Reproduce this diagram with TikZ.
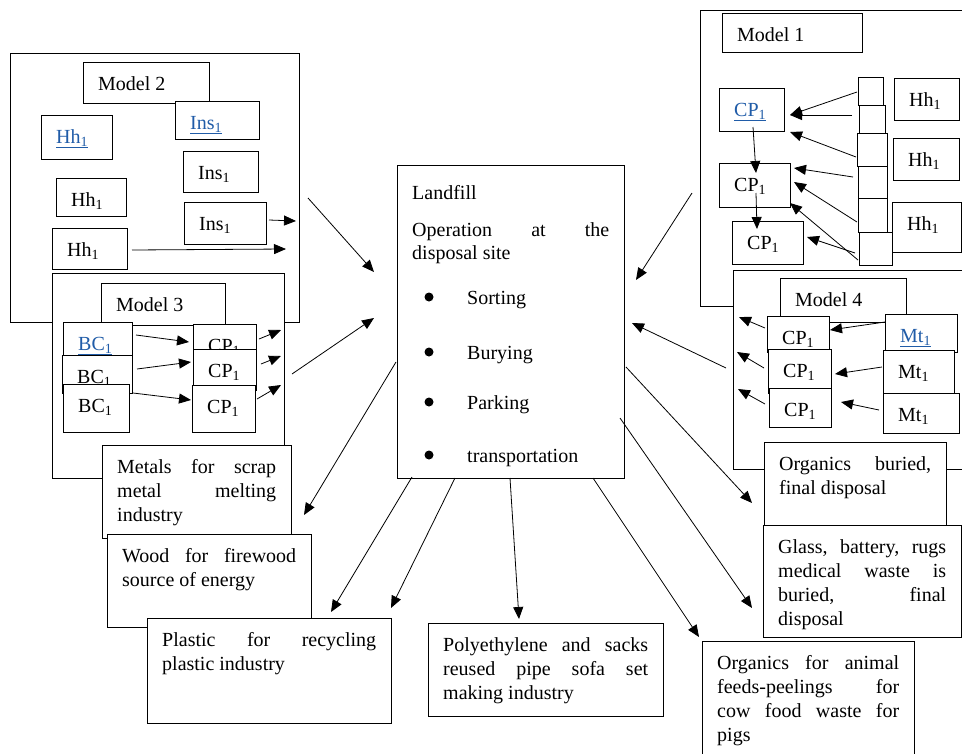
\documentclass[tikz,border=0pt]{standalone}
\usepackage{fontspec}
\setmainfont{Liberation Serif}
\usetikzlibrary{arrows.meta,fit}
\definecolor{linkblue}{RGB}{32,92,168}
\hyphenpenalty=10000
\exhyphenpenalty=10000

\tikzset{
  box/.style={draw, fill=white, line width=0.8pt, inner sep=0pt},
  txt/.style={inner sep=0pt, anchor=north west, font=\fontsize{20}{24}\selectfont},
  arr/.style={line width=0.8pt, -{Triangle[length=12pt,width=10pt]}},
}
% blue underlined index label
\newcommand{\blu}[1]{\textcolor{linkblue}{\underline{#1\textsubscript{1}}}}
\newcommand{\one}[1]{#1\textsubscript{1}}
% box from (x1,y1) to (x2,y2) with one text line
\newcommand{\wbox}[6]{%
  \node[box, fit={(#2,#3) (#4,#5)}] (#1) {};
  \node[txt] (#1t) at ({#2+15},{#3+11}) {\strut #6};}
% box with justified text
\newcommand{\wpar}[6]{%
  \node[box, fit={(#2,#3) (#4,#5)}] (#1) {};
  \pgfmathsetmacro\tw{#4-#2-30}
  \node[txt, text width=\tw pt, align=justify] (#1t) at ({#2+15},{#3+11}) {\strut #6};}

\begin{document}
\begin{tikzpicture}[x=1pt,y=-1pt]
\useasboundingbox (0,0) rectangle (962,753);

% model 2
\node[box, fit={(10,53) (299,322)}] (mtwo) {};
\wbox{mtwol}{83}{62}{209}{103}{Model 2}
\wbox{hha}{41}{115}{112}{159}{\blu{Hh}}
\wbox{insa}{175}{101}{259}{139}{\blu{Ins}}
\wbox{insb}{183}{151}{258}{192}{\one{Ins}}
\wbox{hhb}{56}{178}{126}{216}{\one{Hh}}
\wbox{insc}{184}{202}{266}{244}{\one{Ins}}
\wbox{hhc}{52}{228}{127}{269}{\one{Hh}}

% model 3
\node[box, fit={(52,273) (284,478)}] (mthree) {};
\wbox{mthreel}{101}{283}{225}{325}{Model 3}
\wbox{bca}{63}{322}{132}{365}{\blu{BC}}
\wbox{bcb}{62}{355}{132}{393}{\one{BC}}
\wbox{bcc}{63}{384}{129}{432}{\one{BC}}
\wbox{cpa}{193}{324}{256}{365}{\one{CP}}
\wbox{cpb}{193}{349}{256}{390}{\one{CP}}
\wbox{cpc}{192}{385}{255}{432}{\one{CP}}

% left outputs
\wpar{metal}{102}{445}{291}{538}{Metals for scrap\linebreak metal melting\linebreak industry}
\wpar{wood}{107}{534}{311}{627}{Wood for firewood\linebreak source of energy}
\wpar{plast}{147}{618}{391}{723}{Plastic for recycling\linebreak plastic industry}

% landfill
\node[box, fit={(397,165) (624,478)}] (lf) {};
\node[txt] (lfa) at (412,182) {\strut Landfill};
\node[txt] (lfb) at (412,219) {\strut\makebox[197pt][s]{Operation at the}};
\node[txt] (lfc) at (412,242) {\strut disposal site};
\foreach \t/\y [count=\i] in {Sorting/304,Burying/359,Parking/409,transportation/462}{
  \fill (429,\y-7) circle (4.5pt);
  \node[txt, anchor=base west] (op\i) at (467,\y) {\t};
}

\wpar{poly}{428}{623}{663}{716}{Polyethylene and sacks\linebreak reused pipe sofa set\linebreak making industry}

% model 1
\node[box, fit={(700,10) (975,306)}] (mone) {};
\wbox{monel}{722}{13}{862}{52}{Model 1}
\wbox{cpd}{719}{88}{784}{131}{\blu{CP}}
\wbox{cpe}{719}{163}{790}{207}{\one{CP}}
\wbox{cpf}{732}{221}{803}{264}{\one{CP}}
\foreach \a/\b/\c/\d [count=\i] in {858/77/883/105, 859/105/885/133, 857/133/887/166,
    858/166/887/198, 858/198/887/232, 859/232/892/265}{
  \node[box, fit={(\a,\b) (\c,\d)}] (sq\i) {};
}
\wbox{hhd}{894}{78}{959}{120}{\one{Hh}}
\wbox{hhe}{893}{138}{959}{180}{\one{Hh}}
\wbox{hhf}{892}{202}{961}{252}{\one{Hh}}

% model 4
\node[box, fit={(733,270) (975,469)}] (mfour) {};
\wbox{mfourl}{780}{278}{906}{322}{Model 4}
\wbox{cpg}{767}{316}{829}{352}{\one{CP}}
\wbox{cph}{768}{349}{831}{393}{\one{CP}}
\wbox{cpi}{769}{388}{831}{427}{\one{CP}}
\wbox{mta}{885}{314}{957}{352}{\blu{Mt}}
\wbox{mtb}{883}{350}{954}{393}{\one{Mt}}
\wbox{mtc}{883}{393}{959}{433}{\one{Mt}}

% right outputs
\wpar{orgb}{764}{442}{946}{525}{Organics buried,\linebreak final disposal}
\wpar{glass}{763}{525}{961}{637}{Glass, battery, rugs\linebreak medical waste is\linebreak buried, final\linebreak disposal}
\wpar{orga}{702}{641}{914}{770}{Organics for animal\linebreak feeds-peelings for\linebreak cow food waste for\linebreak pigs}

% arrows
\foreach \sx/\sy/\ex/\ey [count=\i] in {
    269/220/296/221, 132/250/286/249,
    136/335/189/342, 137/369/191/362, 133/393/191/400,
    259/339/281/330, 261/364/281/356, 257/399/281/385,
    308/198/374/272, 292/374/374/318, 692/193/636/280, 726/368/632/323,
    396/362/304/515, 412/477/331/612, 455/478/391/608, 510/478/519/619,
    593/478/699/637, 620/418/752/608, 626/367/752/503,
    857/92/790/115, 852/115/790/115, 856/157/790/132, 853/177/794/168,
    857/222/794/182, 858/260/790/203, 855/253/807/237,
    753/127/756/173, 756/193/757/229,
    885/322/830/330, 882/367/835/374, 879/410/841/402,
    765/328/739/317, 764/368/737/352, 765/404/738/389}{
  \coordinate (s\i) at (\sx,\sy);
  \coordinate (e\i) at (\ex,\ey);
  \draw[arr] (s\i) -- (e\i);
}
\end{tikzpicture}
\end{document}
